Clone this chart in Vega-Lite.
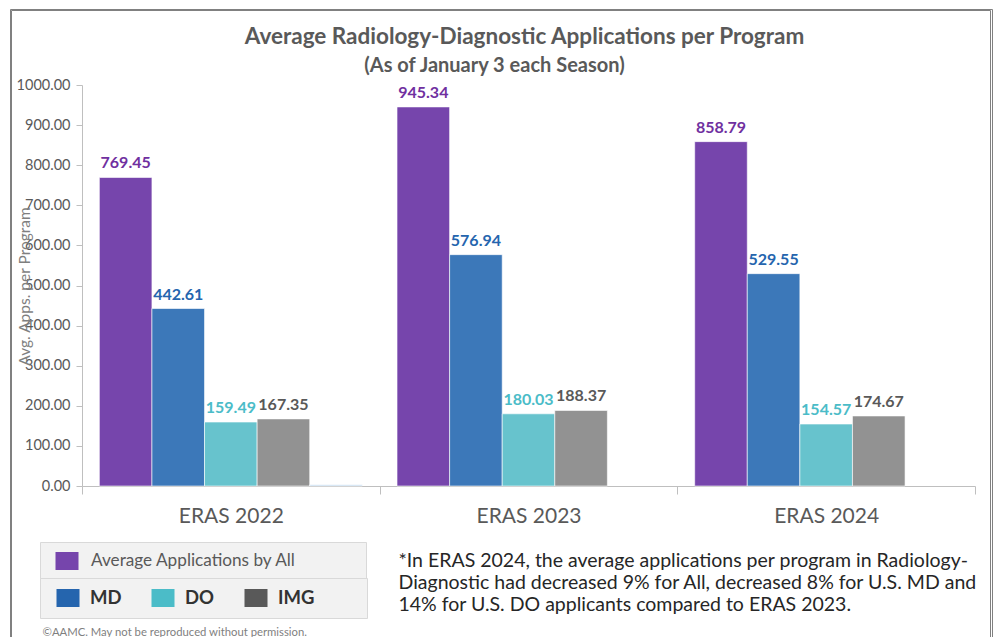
{
  "$schema": "https://vega.github.io/schema/vega-lite/v6.json",
  "width": 893,
  "height": 401,
  "autosize": {"type": "none"},
  "padding": {"left": 82, "top": 85, "right": 25, "bottom": 151},
  "background": "white",
  "config": {"font": "Lato", "view": {"stroke": null}},
  "title": {
    "text": "Average Radiology-Diagnostic Applications per Program",
    "subtitle": "(As of January 3 each Season)\u2800\u2800\u2800\u2800",
    "anchor": "middle",
    "frame": "group",
    "font": "Lato",
    "fontSize": 22.5,
    "fontWeight": "bold",
    "color": "#595959",
    "subtitleFont": "Lato",
    "subtitleFontSize": 20,
    "subtitleFontWeight": "bold",
    "subtitleColor": "#595959",
    "subtitlePadding": 7,
    "offset": -67,
    "dx": -4
  },
  "data": {
    "values": [
      {"season": "ERAS 2022", "series": "All", "value": 769.45},
      {"season": "ERAS 2022", "series": "MD", "value": 442.61},
      {"season": "ERAS 2022", "series": "DO", "value": 159.49},
      {"season": "ERAS 2022", "series": "IMG", "value": 167.35},
      {"season": "ERAS 2022", "series": "Other", "value": 3},
      {"season": "ERAS 2023", "series": "All", "value": 945.34},
      {"season": "ERAS 2023", "series": "MD", "value": 576.94},
      {"season": "ERAS 2023", "series": "DO", "value": 180.03},
      {"season": "ERAS 2023", "series": "IMG", "value": 188.37},
      {"season": "ERAS 2024", "series": "All", "value": 858.79},
      {"season": "ERAS 2024", "series": "MD", "value": 529.55},
      {"season": "ERAS 2024", "series": "DO", "value": 154.57},
      {"season": "ERAS 2024", "series": "IMG", "value": 174.67}
    ]
  },
  "layer": [
    {
      "mark": {"type": "bar", "stroke": "#ffffff", "strokeWidth": 1, "strokeOpacity": 0.6},
      "encoding": {
        "x": {
          "field": "season", "type": "nominal", "sort": null,
          "scale": {"paddingInner": 0, "paddingOuter": 0},
          "axis": {
            "title": [
              "*In ERAS 2024, the average applications per program in Radiology-",
              "Diagnostic had decreased 9% for All, decreased 8% for U.S. MD and",
              "14% for U.S. DO applicants compared to ERAS 2023."
            ],
            "titleAnchor": "start", "titleAlign": "left", "titleX": 316, "titleY": 65,
            "titleBaseline": "top", "titleFont": "Lato", "titleFontSize": 19.5,
            "titleFontWeight": "normal", "titleColor": "#262626", "titleLineHeight": 22,
            "labelAngle": 0, "labelFont": "Lato", "labelFontSize": 21, "labelColor": "#595959",
            "labelPadding": 11, "domainColor": "#bfbfbf", "tickColor": "#bfbfbf",
            "tickBand": "extent", "tickSize": 8
          }
        },
        "xOffset": {
          "field": "series", "type": "nominal",
          "scale": {"domain": ["All", "MD", "DO", "IMG", "Other"], "paddingInner": 0, "paddingOuter": 0.33}
        },
        "y": {
          "field": "value", "type": "quantitative",
          "scale": {"domain": [0, 1000], "nice": false},
          "axis": {
            "title": "Avg. Apps. per Program",
            "titleX": -58, "titleY": 201, "titleAlign": "center", "titleBaseline": "middle",
            "titleFont": "Lato", "titleFontSize": 15.5, "titleFontWeight": "normal", "titleColor": "#7f7f7f",
            "values": [0, 100, 200, 300, 400, 500, 600, 700, 800, 900, 1000],
            "format": ".2f", "labelFont": "Lato", "labelFontSize": 14.5, "labelColor": "#595959",
            "labelPadding": 6, "tickSize": 6, "tickColor": "#bfbfbf", "domainColor": "#bfbfbf",
            "grid": false
          }
        },
        "color": {
          "field": "series", "type": "nominal",
          "scale": {
            "domain": ["All", "MD", "DO", "IMG", "Other"],
            "range": ["#7645ac", "#3c78b9", "#67c3cd", "#929292", "#bdd7ee"]
          },
          "legend": {
            "orient": "none", "legendX": -42, "legendY": 457, "title": null,
            "values": ["All"],
            "labelExpr": "'Average Applications by All\u2800\u2800\u2800\u2800\u2800'",
            "symbolType": "M-1.15,-0.9H1.15V0.9H-1.15Z", "symbolSize": 400,
            "symbolStrokeWidth": 0, "symbolOffset": 8, "labelOffset": 14,
            "labelFont": "Lato", "labelFontSize": 17.2, "labelColor": "#595959", "labelLimit": 500,
            "fillColor": "#f2f2f2", "strokeColor": "#d9d9d9", "padding": 9
          }
        },
        "opacity": {
          "field": "season", "type": "ordinal",
          "scale": {"domain": ["ERAS 2022", "ERAS 2023", "ERAS 2024"], "range": [1, 1]},
          "legend": {
            "orient": "none", "legendX": -72, "legendY": -76, "title": null,
            "values": ["ERAS 2022"], "labelExpr": "''", "symbolSize": 0,
            "labelOffset": 0, "labelFontSize": 1, "padding": 489,
            "strokeColor": "#808080"
          }
        },
        "strokeWidth": {
          "field": "season", "type": "ordinal",
          "scale": {"domain": ["ERAS 2023", "ERAS 2022", "ERAS 2024"], "range": [1, 1]},
          "legend": {
            "orient": "none", "legendX": -71, "legendY": -75, "title": null,
            "values": ["ERAS 2022"], "labelExpr": "''", "symbolSize": 0,
            "labelOffset": 0, "labelFontSize": 1, "padding": 488,
            "strokeColor": "#808080"
          }
        }
      }
    },
    {
      "transform": [{"filter": "datum.series !== 'Other'"}],
      "mark": {"type": "text", "font": "Lato", "fontWeight": "bold", "fontSize": 16, "baseline": "alphabetic", "dy": -9},
      "encoding": {
        "x": {"field": "season", "type": "nominal", "sort": null},
        "xOffset": {"field": "series", "type": "nominal", "scale": {"domain": ["All", "MD", "DO", "IMG", "Other"]}},
        "y": {
          "field": "value", "type": "quantitative",
          "axis": {
            "orient": "right",
            "title": "\u00a9AAMC. May not be reproduced without permission.",
            "titleAngle": 0, "titleX": -933, "titleY": 547, "titleAlign": "left", "titleBaseline": "middle",
            "titleFont": "Lato", "titleFontSize": 11.3, "titleFontWeight": "normal", "titleColor": "#7f7f7f",
            "labels": false, "ticks": false, "domain": false, "grid": false
          }
        },
        "text": {"field": "value", "type": "quantitative", "format": ".2f"},
        "fill": {
          "field": "series", "type": "nominal",
          "scale": {"domain": ["All", "MD", "DO", "IMG"], "range": ["#7030a0", "#2565ae", "#4bbcc8", "#595959"]},
          "legend": {
            "orient": "none", "legendX": -42, "legendY": 493, "title": null,
            "values": ["MD", "DO", "IMG"], "direction": "horizontal", "columns": 3, "gridAlign": "none",
            "columnPadding": 23,
            "labelExpr": "datum.label === 'IMG' ? 'IMG\u2800\u2800\u2800' : datum.label",
            "symbolType": "M-1.15,-0.9H1.15V0.9H-1.15Z", "symbolSize": 400,
            "symbolStrokeWidth": 0, "symbolOffset": 8, "labelOffset": 12,
            "labelFont": "Lato", "labelFontSize": 18.5, "labelFontWeight": "bold", "labelColor": "#333333",
            "labelLimit": 500, "fillColor": "#f2f2f2", "strokeColor": "#d9d9d9", "padding": 10
          }
        },
        "strokeOpacity": {
          "field": "season", "type": "ordinal",
          "scale": {"domain": ["ERAS 2024", "ERAS 2022", "ERAS 2023"], "range": [1, 1]},
          "legend": {
            "orient": "none", "legendX": -73, "legendY": -77, "title": null,
            "values": ["ERAS 2022"], "labelExpr": "''", "symbolSize": 0,
            "labelOffset": 0, "labelFontSize": 1, "padding": 490,
            "strokeColor": "#808080"
          }
        }
      }
    }
  ],
  "resolve": {"axis": {"y": "independent"}}
}
